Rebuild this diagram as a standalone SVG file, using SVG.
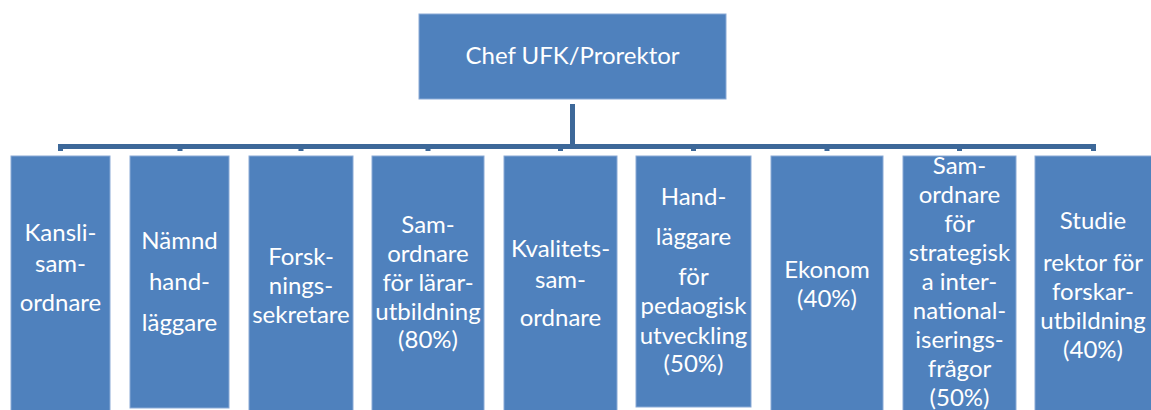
<svg xmlns="http://www.w3.org/2000/svg" width="1151" height="410" viewBox="0 0 1151 410">
<style>
.box{fill:#4F81BD;stroke:#8AAAD6;stroke-width:1}
.t{font-family:Lato,"Open Sans","Liberation Sans",sans-serif;font-size:24px;fill:#FFFFFF;text-anchor:middle}
.c{fill:none;stroke:#3D6899;stroke-width:5;stroke-linejoin:miter;stroke-linecap:butt}
</style>
<rect width="1151" height="410" fill="#FFFFFF"/>
<g id="connectors">
<path class="c" d="M572.5,104 V146.5 H58 M60.5,146.5 V151 M180,146.5 V151 M301,146.5 V151 M428,146.5 V151 M560.5,146.5 V151 M693.5,146.5 V151 M827,146.5 V151 M959.5,146.5 V151 M1093.5,146.5 V151 M572.5,146.5 H1096"/>
</g>
<g id="chef">
<rect class="box" x="419" y="14" width="307" height="85"/>
<text class="t" x="572.5" y="64">Chef UFK/Prorektor</text>
</g>
<g id="kanslisamordnare">
<rect class="box" x="11" y="156" width="99" height="262"/>
<text class="t"><tspan x="60.5" y="241">Kansli-</tspan><tspan x="60.5" y="272">sam-</tspan><tspan x="60.5" y="311">ordnare</tspan></text>
</g>
<g id="namndhandlaggare">
<rect class="box" x="130" y="156" width="99" height="252"/>
<text class="t"><tspan x="179.5" y="249">Nämnd</tspan><tspan x="179.5" y="290">hand-</tspan><tspan x="179.5" y="331">läggare</tspan></text>
</g>
<g id="forskningssekretare">
<rect class="box" x="249" y="156" width="104" height="262"/>
<text class="t"><tspan x="301" y="265">Forsk-</tspan><tspan x="301" y="294">nings-</tspan><tspan x="301" y="323">sekretare</tspan></text>
</g>
<g id="samordnare-lararutbildning">
<rect class="box" x="372" y="156" width="112" height="262"/>
<text class="t"><tspan x="428" y="233">Sam-</tspan><tspan x="428" y="262">ordnare</tspan><tspan x="428" y="291">för lärar-</tspan><tspan x="428" y="320">utbildning</tspan><tspan x="428" y="348">(80%)</tspan></text>
</g>
<g id="kvalitetssamordnare">
<rect class="box" x="504" y="156" width="113" height="262"/>
<text class="t"><tspan x="560.5" y="257">Kvalitets-</tspan><tspan x="560.5" y="288">sam-</tspan><tspan x="560.5" y="326">ordnare</tspan></text>
</g>
<g id="handlaggare-pedagogisk">
<rect class="box" x="636" y="156" width="115" height="251"/>
<text class="t"><tspan x="693.5" y="205">Hand-</tspan><tspan x="693.5" y="245">läggare</tspan><tspan x="693.5" y="285">för</tspan><tspan x="693.5" y="314">pedaogisk</tspan><tspan x="693.5" y="344">utveckling</tspan><tspan x="693.5" y="372">(50%)</tspan></text>
</g>
<g id="ekonom">
<rect class="box" x="771" y="156" width="112" height="262"/>
<text class="t"><tspan x="827" y="278">Ekonom</tspan><tspan x="827" y="307">(40%)</tspan></text>
</g>
<g id="samordnare-internationalisering">
<rect class="box" x="903" y="156" width="113" height="262"/>
<text class="t"><tspan x="959.5" y="174">Sam-</tspan><tspan x="959.5" y="203">ordnare</tspan><tspan x="959.5" y="232">för</tspan><tspan x="959.5" y="261">strategisk</tspan><tspan x="959.5" y="290">a inter-</tspan><tspan x="959.5" y="319">national-</tspan><tspan x="959.5" y="348">iserings-</tspan><tspan x="959.5" y="377">frågor</tspan><tspan x="959.5" y="406">(50%)</tspan></text>
</g>
<g id="studierektor">
<rect class="box" x="1035" y="156" width="122" height="262"/>
<text class="t"><tspan x="1093" y="229">Studie</tspan><tspan x="1093" y="271">rektor för</tspan><tspan x="1093" y="300">forskar-</tspan><tspan x="1093" y="329">utbildning</tspan><tspan x="1093" y="358">(40%)</tspan></text>
</g>
</svg>
